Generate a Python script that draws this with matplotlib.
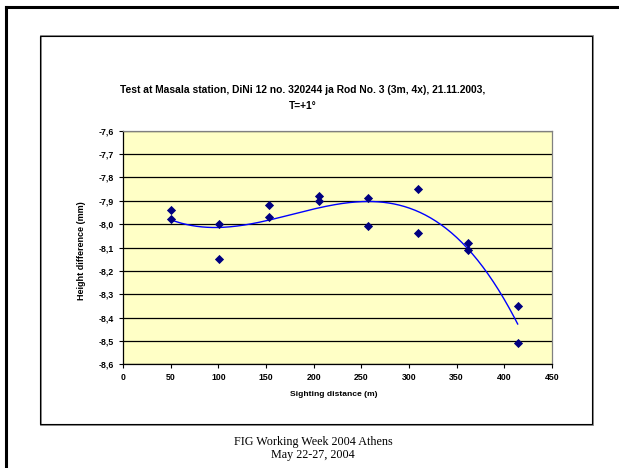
import matplotlib
matplotlib.use("Agg")
import matplotlib.pyplot as plt
import numpy as np
from matplotlib.patches import Rectangle
from matplotlib.lines import Line2D
from matplotlib.ticker import FuncFormatter, MultipleLocator

distance = [50, 50, 101, 101, 153, 153, 206, 206, 257, 257, 309, 309, 362, 362, 414, 414]
height = [-7.94, -7.98, -8.00, -8.15, -7.92, -7.97, -7.88, -7.90,
          -7.89, -8.01, -7.85, -8.04, -8.08, -8.11, -8.35, -8.51]

title = "Test at Masala station, DiNi 12 no. 320244 ja Rod No. 3 (3m, 4x), 21.11.2003,\nT=+1°"
xlabel = "Sighting distance (m)"
ylabel = "Height difference (mm)"
footer = "FIG Working Week 2004 Athens\nMay 22-27, 2004"

W, H = 619, 468
fig = plt.figure(figsize=(W / 100, H / 100), dpi=100)
fig.patch.set_facecolor("white")

def fx(px):
    return px / W

def fy(py):
    return 1 - py / H

# slide frame (thick lines on left and top)
fig.add_artist(Line2D([fx(5.5), fx(5.5)], [fy(7), fy(470)], color="black", lw=2.2))
fig.add_artist(Line2D([fx(5.5), fx(625)], [fy(7), fy(7)], color="black", lw=2.2))

# chart area frame with a little shadow
fig.add_artist(Rectangle((fx(40.5), fy(424.5)), fx(552.5), fy(36) - fy(424.5),
                         facecolor="none", edgecolor="#808080", lw=1.3))
fig.add_artist(Rectangle((fx(39.5), fy(423.5)), fx(552), fy(36) - fy(423.5),
                         facecolor="none", edgecolor="black", lw=0.8))

ax = fig.add_axes([fx(123), fy(364.3), fx(552) - fx(123), fy(130.7) - fy(364.3)])
ax.set_facecolor("#FFFFC6")
ax.set_xlim(0, 450)
ax.set_ylim(-8.6, -7.6)
ax.xaxis.set_major_locator(MultipleLocator(50))
ax.yaxis.set_major_locator(MultipleLocator(0.1))
ax.yaxis.set_major_formatter(FuncFormatter(lambda v, p: ("%.1f" % v).replace(".", ",")))
ax.grid(axis="y", color="black", lw=0.9)
ax.set_axisbelow(True)
for s in ax.spines.values():
    s.set_color("#808080")
    s.set_linewidth(0.9)
ax.spines["left"].set_color("black")
ax.spines["bottom"].set_color("black")
ax.tick_params(axis="both", direction="out", length=3, width=0.8, labelsize=6.3, pad=3.5)
for lab in ax.get_xticklabels() + ax.get_yticklabels():
    lab.set_family("Liberation Sans")
    lab.set_fontweight("bold")

# polynomial trendline (order 3) as in the spreadsheet
coef = np.polyfit(distance, height, 3)
xs = np.linspace(min(distance), max(distance), 200)
ax.plot(xs, np.polyval(coef, xs), color="#0000FF", lw=1.0, zorder=3)

ax.scatter(distance, height, marker="D", s=22, color="#000080", zorder=4, linewidths=0)

fig.text(fx(303), fy(97.7), title, ha="center", va="center", fontsize=7.4,
         family="Liberation Sans", fontweight="bold", linespacing=1.75)
fig.text(fx(334), fy(394), xlabel, ha="center", va="center", fontsize=6.1,
         family="Liberation Sans", fontweight="bold")
fig.text(fx(81), fy(251), ylabel, ha="center", va="center", fontsize=6.5, rotation=90,
         family="Liberation Sans", fontweight="bold")
fig.text(fx(313), fy(448.5), footer, ha="center", va="center", fontsize=8.7,
         family="Liberation Serif", linespacing=1.05)

fig.savefig("out.png", dpi=100)
